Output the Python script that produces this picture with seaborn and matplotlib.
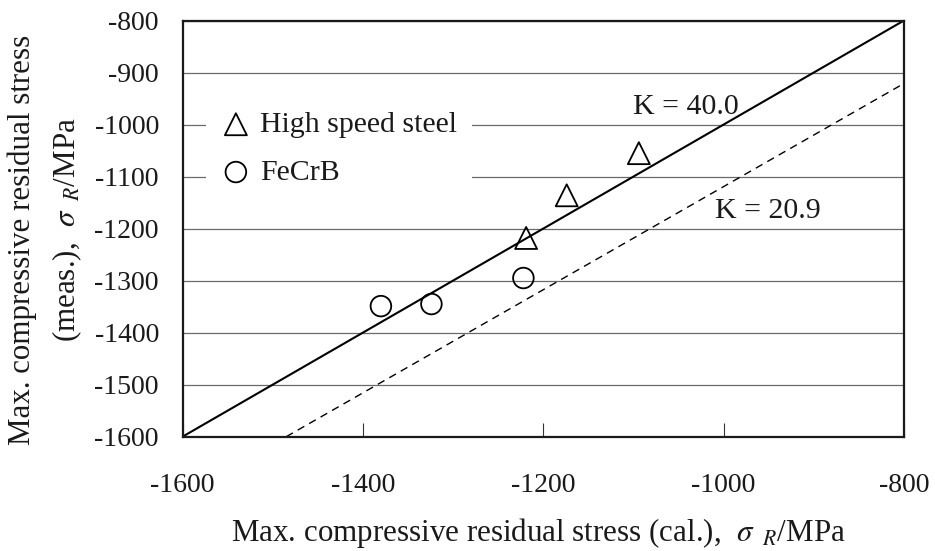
import matplotlib
matplotlib.use("Agg")
import matplotlib.pyplot as plt
import seaborn as sns
import pandas as pd

# ---- data ----
hss_x = [-1094, -1174, -1219]
hss_y = [-1055, -1136, -1218]
fecrb_x = [-1380, -1324, -1222]
fecrb_y = [-1349, -1345, -1295]
k40_x = [-1600, -800]
k40_y = [-1600, -800]
k209_x = [-1485, -800]
k209_y = [-1600, -921]
x_ticks = [-1600, -1400, -1200, -1000, -800]
y_ticks = [-1600, -1500, -1400, -1300, -1200, -1100, -1000, -900, -800]
labels = ["High speed steel", "FeCrB"]

sns.set_theme(style="white")
plt.rcParams["font.family"] = ["Liberation Serif", "DejaVu Serif"]
plt.rcParams["mathtext.fontset"] = "stix"
plt.rcParams["axes.unicode_minus"] = False

FS_TICK = 20
FS_TXT = 21.5
FS_LAB = 22.3
TC = "#1a1a1a"

fig = plt.figure(figsize=(9.35, 5.51), dpi=100, facecolor="white")
ax = fig.add_axes([182.5 / 935, 1 - 436.7 / 551, (904 - 182.5) / 935, (436.7 - 20.5) / 551])

df_h = pd.DataFrame({"x": hss_x, "y": hss_y})
df_f = pd.DataFrame({"x": fecrb_x, "y": fecrb_y})

sns.lineplot(x=k40_x, y=k40_y, ax=ax, color="black", lw=1.5, zorder=2)
sns.lineplot(x=k209_x, y=k209_y, ax=ax, color="black", lw=1.0, zorder=2,
             linestyle=(0, (5.5, 4)))

sns.scatterplot(data=df_h, x="x", y="y", ax=ax, marker="^", s=250,
                facecolors="none", edgecolors="black", linewidth=1.3,
                zorder=3, label=labels[0])
sns.scatterplot(data=df_f, x="x", y="y", ax=ax, marker="o", s=220,
                facecolors="none", edgecolors="black", linewidth=1.3,
                zorder=3, label=labels[1])

ax.set_xlim(-1600, -800)
ax.set_ylim(-1600, -800)
ax.set_xticks(x_ticks)
ax.set_yticks(y_ticks)
ax.set_xticklabels([str(v) for v in x_ticks])
ax.set_yticklabels([str(v) for v in y_ticks])
ax.set_xlabel("")
ax.set_ylabel("")

ax.yaxis.grid(True, color="#6a6a6a", lw=0.9, zorder=0)
ax.xaxis.grid(False)
ax.set_axisbelow(True)

ax.tick_params(axis="x", direction="in", length=10, width=0.8, color="#333333",
               pad=26, labelsize=FS_TICK, labelcolor=TC, bottom=True)
ax.tick_params(axis="y", length=0, pad=17, labelsize=FS_TICK, labelcolor=TC, left=True)

for sp in ax.spines.values():
    sp.set_color(TC)
    sp.set_linewidth(1.6)
    sp.set_visible(True)

handles, labs = ax.get_legend_handles_labels()
leg = ax.legend(handles, labs, loc="upper left", bbox_to_anchor=(0.0326, 0.818),
                frameon=True, facecolor="white", edgecolor="none", framealpha=1,
                fontsize=FS_TXT, handletextpad=0.3, handlelength=1.0, borderpad=0.5,
                labelspacing=0.7, borderaxespad=0)
for t in leg.get_texts():
    t.set_color(TC)

ax.text(-1042, -979, "K = 40.0", fontsize=FS_TXT, ha="center", va="baseline", color=TC)
ax.text(-951, -1180, "K = 20.9", fontsize=FS_TXT, ha="center", va="baseline", color=TC)

fig.text(538 / 935, 1 - 533 / 551,
         r"Max. compressive residual stress (cal.),  $\sigma_{\ \ R}$/MPa",
         fontsize=FS_LAB, ha="center", va="center", color=TC)
fig.text(22 / 935, 1 - 240 / 551, "Max. compressive residual stress",
         fontsize=FS_LAB, ha="center", va="center", rotation=90, color=TC)
fig.text(67 / 935, 1 - 230 / 551, r"(meas.),  $\sigma_{\ \ R}$/MPa",
         fontsize=FS_LAB, ha="center", va="center", rotation=90, color=TC)

fig.savefig("out.png", dpi=100, facecolor="white")
